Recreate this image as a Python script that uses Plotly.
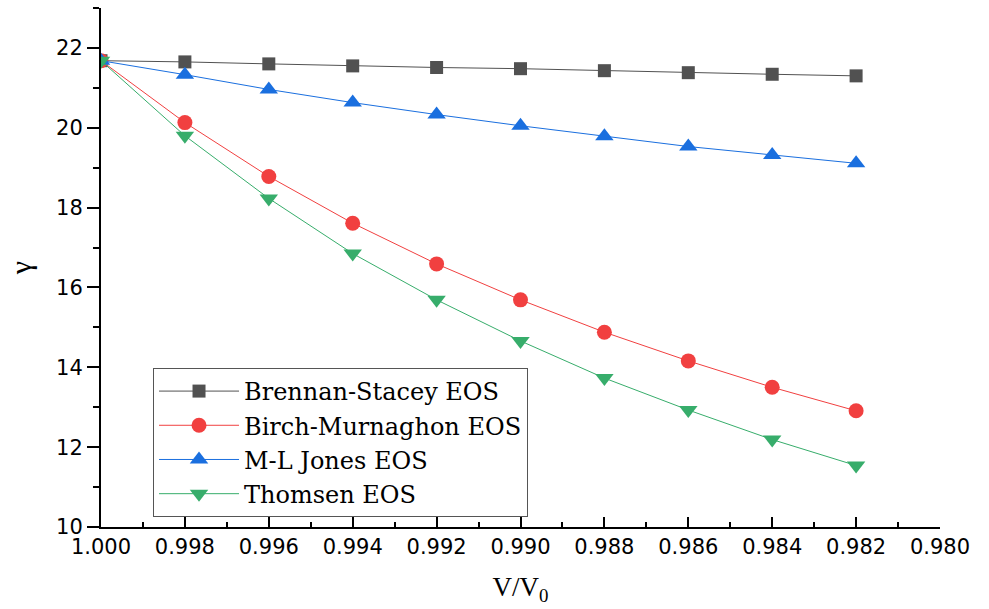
import plotly.graph_objects as go

# Relative volume V/V0
v_ratio = [1.000, 0.998, 0.996, 0.994, 0.992, 0.990, 0.988, 0.986, 0.984, 0.982]

# Grüneisen parameter from each equation of state
gamma_brennan_stacey = [21.68, 21.65, 21.60, 21.55, 21.51, 21.48, 21.43, 21.38, 21.34, 21.30]
gamma_birch_murnaghon = [21.68, 20.13, 18.78, 17.61, 16.59, 15.69, 14.88, 14.16, 13.50, 12.91]
gamma_ml_jones = [21.68, 21.33, 20.96, 20.63, 20.33, 20.05, 19.79, 19.53, 19.32, 19.11]
gamma_thomsen = [21.68, 19.80, 18.23, 16.85, 15.69, 14.66, 13.73, 12.93, 12.19, 11.54]

series = [
    ("Brennan-Stacey EOS", gamma_brennan_stacey, "#515151", "square", 13),
    ("Birch-Murnaghon EOS", gamma_birch_murnaghon, "#F14040", "circle", 15),
    ("M-L Jones EOS", gamma_ml_jones, "#1A6FDF", "triangle-up", 16),
    ("Thomsen EOS", gamma_thomsen, "#37AD6B", "triangle-down", 16),
]

fig = go.Figure()
for name, vals, color, symbol, size in series:
    fig.add_trace(go.Scatter(
        x=v_ratio, y=vals, name=name, mode="lines+markers",
        line=dict(color=color, width=1),
        marker=dict(symbol=symbol, size=size, color=color, line=dict(width=0)),
    ))

tick_font = dict(family="DejaVu Sans", size=21, color="black")
serif = "DejaVu Serif, Liberation Serif, serif"

fig.update_layout(
    width=989, height=609,
    margin=dict(l=101, r=49, t=8, b=82),
    paper_bgcolor="white", plot_bgcolor="white",
    showlegend=True,
    legend=dict(
        x=0.062, y=0.3064, xanchor="left", yanchor="top",
        bgcolor="white", bordercolor="#555555", borderwidth=1,
        font=dict(family=serif, size=24, color="black"),
        itemwidth=80, tracegroupgap=0,
    ),
    xaxis=dict(
        range=[1.000, 0.980], dtick=0.002, tick0=1.0, tickformat=".3f",
        showgrid=False, zeroline=False,
        showline=True, linecolor="black", linewidth=2,
        ticks="inside", ticklen=10, tickwidth=2, tickcolor="black",
        minor=dict(ticks="inside", ticklen=5, tickwidth=2, tickcolor="black", dtick=0.001, showgrid=False),
        tickfont=tick_font,
        title=dict(text="V/V<sub>0</sub>", font=dict(family="Liberation Serif, serif", size=27, color="black"), standoff=19),
    ),
    yaxis=dict(
        range=[10, 23], dtick=2, tick0=10,
        showgrid=False, zeroline=False,
        showline=True, linecolor="black", linewidth=2,
        ticks="outside", ticklen=12, tickwidth=2, tickcolor="black",
        minor=dict(ticks="outside", ticklen=6, tickwidth=2, tickcolor="black", dtick=1, showgrid=False),
        tickfont=tick_font,
        title=dict(text="γ", font=dict(family="Liberation Serif, serif", size=30, color="black"), standoff=16),
    ),
    xaxis2=dict(
        overlaying="x", anchor="y", side="top",
        range=[1.000, 0.980], dtick=0.002, tick0=1.0,
        showgrid=False, zeroline=False, showticklabels=False,
        showline=True, linecolor="black", linewidth=2,
        ticks="inside", ticklen=5, tickwidth=2, tickcolor="black",
    ),
    yaxis2=dict(
        overlaying="y", anchor="x", side="right",
        range=[0, 5], dtick=1, tick0=0,
        showgrid=False, zeroline=False, showticklabels=False,
        showline=True, linecolor="black", linewidth=2,
        ticks="inside", ticklen=12, tickwidth=2, tickcolor="black",
        minor=dict(ticks="inside", ticklen=6, tickwidth=2, tickcolor="black", dtick=0.5, showgrid=False),
    ),
)

fig.write_html("out.html")
